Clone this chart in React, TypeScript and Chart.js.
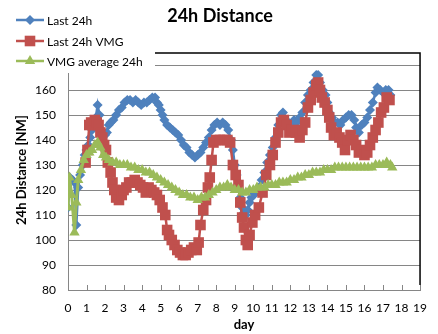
import React, { useEffect, useRef } from 'react';
import { Chart, registerables } from 'chart.js';

Chart.register(...registerables);

const FONT = 'Lato, "Open Sans", sans-serif';

const chartTitle = '24h Distance';
const xAxisTitle = 'day';
const yAxisTitle = '24h Distance [NM]';
const seriesNames = ['Last 24h', 'Last 24h VMG', 'VMG average 24h'];
const seriesColors = ['#4F81BD', '#C0504D', '#9BBB59'];

const xMin = 0;
const xMax = 19;
const yMin = 80;
const yMax = 170;

const blueDays = [
  0, 0.1, 0.25, 0.35, 0.45, 0.55, 0.65, 0.8, 0.9, 1.0,
  1.1, 1.2, 1.3, 1.4, 1.5, 1.6, 1.7, 1.8, 1.9, 2.0,
  2.1, 2.2, 2.3, 2.45, 2.6, 2.75, 2.9, 3.05, 3.2, 3.35,
  3.5, 3.65, 3.8, 3.95, 4.1, 4.25, 4.4, 4.55, 4.7, 4.8,
  4.9, 5.0, 5.1, 5.2, 5.35, 5.5, 5.65, 5.8, 5.95, 6.1,
  6.25, 6.4, 6.55, 6.7, 6.85, 7.0, 7.15, 7.3, 7.45, 7.6,
  7.75, 7.9, 8.05, 8.2, 8.35, 8.5, 8.65, 8.8, 8.9, 9.0,
  9.1, 9.2, 9.3, 9.4, 9.5, 9.6, 9.7, 9.8, 9.9, 10.0,
  10.15, 10.3, 10.45, 10.6, 10.75, 10.9, 11.05, 11.2, 11.35, 11.5,
  11.6, 11.75, 11.9, 12.05, 12.2, 12.35, 12.5, 12.65, 12.8, 12.95,
  13.1, 13.25, 13.4, 13.5, 13.6, 13.75, 13.9, 14.0, 14.1, 14.25,
  14.4, 14.55, 14.7, 14.85, 15.0, 15.15, 15.3, 15.45, 15.55, 15.7,
  15.85, 16.0, 16.15, 16.3, 16.45, 16.6, 16.7, 16.85, 17.0, 17.15,
  17.3, 17.4,
];
const blueValues = [
  113, 125, 124, 123, 106, 121, 126, 130, 134, 136,
  138, 141, 144, 147, 149, 154, 150, 144, 142, 142,
  143, 146, 147, 148, 150, 152, 153, 155, 156, 156,
  155, 156, 155, 154, 155, 155, 156, 157, 157, 155,
  154, 152, 150, 148, 146, 145, 144, 143, 142, 140,
  138, 137, 135, 134, 133, 134, 135, 137, 139, 141,
  144, 146, 147, 146, 147, 146, 144, 140, 136, 130,
  126, 122, 117, 113, 111, 110, 112, 115, 117, 118,
  119, 121, 124, 127, 131, 134, 137, 141, 146, 150,
  151, 148, 147, 146, 148, 147, 149, 151, 155, 158,
  160, 163, 166, 166, 163, 160, 158, 155, 151, 149,
  147, 147, 146, 148, 149, 150, 150, 148, 145, 143,
  146, 147, 149, 152, 155, 159, 161, 160, 159, 160,
  160, 158,
];

const redDays = [
  0.95, 1.05, 1.15, 1.25, 1.35, 1.45, 1.55, 1.65, 1.75, 1.85,
  1.95, 2.05, 2.15, 2.3, 2.4, 2.5, 2.6, 2.75, 2.9, 3.0,
  3.15, 3.3, 3.45, 3.6, 3.75, 3.9, 4.05, 4.2, 4.35, 4.5,
  4.65, 4.8, 4.95, 5.1, 5.25, 5.35, 5.45, 5.6, 5.75, 5.9,
  6.05, 6.2, 6.35, 6.5, 6.65, 6.8, 6.95, 7.05, 7.15, 7.3,
  7.45, 7.55, 7.65, 7.75, 7.85, 8.0, 8.2, 8.4, 8.6, 8.75,
  8.9, 9.05, 9.2, 9.3, 9.4, 9.5, 9.6, 9.7, 9.8, 9.95,
  10.1, 10.3, 10.5, 10.7, 10.9, 11.05, 11.2, 11.35, 11.5, 11.65,
  11.8, 11.95, 12.1, 12.3, 12.5, 12.65, 12.8, 12.95, 13.1, 13.25,
  13.4, 13.5, 13.6, 13.7, 13.85, 14.0, 14.1, 14.2, 14.35, 14.5,
  14.65, 14.8, 14.95, 15.1, 15.25, 15.4, 15.55, 15.7, 15.85, 16.0,
  16.15, 16.3, 16.45, 16.6, 16.75, 16.9, 17.05, 17.2, 17.35,
];
const redValues = [
  131, 136, 146, 147, 146, 148, 147, 146, 143, 141,
  138, 136, 131, 127, 123, 120, 117, 116, 118, 120,
  121, 123, 123, 124, 123, 122, 121, 119, 121, 120,
  119, 118, 116, 113, 110, 104, 102, 100, 98, 96,
  95, 94, 94, 95, 96, 97, 96, 99, 106, 112,
  116, 121, 125, 132, 139, 140, 140, 140, 140, 139,
  130, 126, 122, 115, 109, 105, 100, 98, 102, 107,
  110, 113, 119, 126, 130, 134, 139, 143, 147, 148,
  146, 143, 144, 143, 141, 144, 147, 153, 156, 159,
  162, 163, 160, 157, 155, 152, 149, 145, 142, 143,
  141, 139, 136, 140, 142, 140, 138, 135, 136, 134,
  135, 138, 141, 144, 147, 151, 153, 157, 156,
];

const greenDays = [
  0, 0.08, 0.2, 0.35, 0.45, 0.55, 0.7, 0.85, 1.0, 1.15,
  1.3, 1.45, 1.6, 1.75, 1.9, 2.05, 2.2, 2.4, 2.6, 2.8,
  3.0, 3.2, 3.4, 3.6, 3.8, 4.0, 4.2, 4.4, 4.6, 4.8,
  5.0, 5.2, 5.4, 5.6, 5.8, 6.0, 6.2, 6.4, 6.6, 6.8,
  7.0, 7.2, 7.4, 7.6, 7.8, 8.0, 8.2, 8.4, 8.6, 8.8,
  9.0, 9.2, 9.4, 9.6, 9.8, 10.0, 10.2, 10.4, 10.6, 10.8,
  11.0, 11.2, 11.4, 11.6, 11.8, 12.0, 12.2, 12.4, 12.6, 12.8,
  13.0, 13.2, 13.4, 13.6, 13.8, 14.0, 14.2, 14.4, 14.6, 14.8,
  15.0, 15.2, 15.4, 15.6, 15.8, 16.0, 16.2, 16.4, 16.6, 16.8,
  17.0, 17.2, 17.4, 17.5,
];
const greenValues = [
  113, 125, 118, 103, 115, 124, 128, 132, 134, 135,
  136, 138, 139, 137, 134, 133, 132, 131, 131, 130,
  130, 130, 129, 129, 128, 128, 127, 127, 126, 125,
  124, 123, 122, 121, 120, 119, 118, 118, 117, 117,
  116, 117, 117, 118, 119, 120, 121, 121, 122, 121,
  120, 120, 119, 119, 120, 120, 121, 121, 121, 122,
  122, 122, 123, 123, 123, 124, 124, 125, 125, 126,
  126, 127, 127, 127, 128, 128, 128, 129, 129, 129,
  129, 129, 129, 129, 129, 129, 129, 129, 130, 130,
  130, 131, 130, 129,
];

const toPoints = (xs: number[], ys: number[]) => xs.map((x, i) => ({ x, y: ys[i] }));

function drawMarker(ctx: CanvasRenderingContext2D, kind: number, x: number, y: number, color: string) {
  ctx.fillStyle = color;
  ctx.beginPath();
  if (kind === 0) {
    const r = 5;
    ctx.moveTo(x, y - r);
    ctx.lineTo(x + r, y);
    ctx.lineTo(x, y + r);
    ctx.lineTo(x - r, y);
  } else if (kind === 1) {
    const s = 5.3;
    ctx.rect(x - s, y - s, 2 * s, 2 * s);
  } else {
    const r = 6;
    ctx.moveTo(x, y - r);
    ctx.lineTo(x + r * 0.87, y + r * 0.5);
    ctx.lineTo(x - r * 0.87, y + r * 0.5);
  }
  ctx.closePath();
  ctx.fill();
}

const decorPlugin = {
  id: 'decor',
  afterDraw(chart: any) {
    const { ctx, chartArea: ca } = chart;
    const xs = chart.scales.x;
    ctx.save();
    ctx.strokeStyle = '#868686';
    ctx.lineWidth = 1;
    for (const t of xs.ticks) {
      const px = Math.round(xs.getPixelForValue(t.value)) + 0.5;
      ctx.beginPath();
      ctx.moveTo(px, ca.bottom);
      ctx.lineTo(px, ca.bottom - 5);
      ctx.stroke();
    }
    ctx.strokeStyle = '#000';
    ctx.lineWidth = 1.5;
    ctx.beginPath();
    ctx.moveTo(150, ca.top - 12);
    ctx.lineTo(ca.right, ca.top - 12);
    ctx.lineTo(ca.right, ca.bottom - 5);
    ctx.stroke();
    ctx.fillStyle = '#ffffff';
    ctx.fillRect(0, 0, 155, 73);
    ctx.fillStyle = '#000';
    ctx.font = `bold 18px ${FONT}`;
    ctx.textAlign = 'center';
    ctx.textBaseline = 'middle';
    ctx.fillText(chartTitle, 220, 16);
    ctx.save();
    ctx.translate(22, 170);
    ctx.rotate(-Math.PI / 2);
    ctx.font = `bold 13px ${FONT}`;
    ctx.fillText(yAxisTitle, 0, 0);
    ctx.restore();
    const rows = [20, 41, 61];
    ctx.font = `12px ${FONT}`;
    ctx.textAlign = 'left';
    seriesNames.forEach((name, i) => {
      const y = rows[i];
      ctx.strokeStyle = seriesColors[i];
      ctx.lineWidth = 2.5;
      ctx.beginPath();
      ctx.moveTo(16, y);
      ctx.lineTo(44, y);
      ctx.stroke();
      drawMarker(ctx, i, 30, y, seriesColors[i]);
      ctx.fillStyle = '#000';
      ctx.fillText(name, 47, y + 1);
    });
    ctx.restore();
  },
};

export default function App() {
  const ref = useRef<HTMLCanvasElement | null>(null);

  useEffect(() => {
    if (!ref.current) return;
    const chart = new Chart(ref.current, {
      type: 'line',
      data: {
        datasets: [
          {
            label: seriesNames[0],
            data: toPoints(blueDays, blueValues),
            borderColor: seriesColors[0],
            backgroundColor: seriesColors[0],
            pointStyle: 'rectRot',
            pointRadius: 5,
            pointBorderWidth: 0,
            borderWidth: 2.5,
            tension: 0,
            order: 3,
          },
          {
            label: seriesNames[1],
            data: toPoints(redDays, redValues),
            borderColor: seriesColors[1],
            backgroundColor: seriesColors[1],
            pointStyle: 'rect',
            pointRadius: 7.5,
            pointBorderWidth: 0,
            borderWidth: 2.5,
            tension: 0,
            order: 2,
          },
          {
            label: seriesNames[2],
            data: toPoints(greenDays, greenValues),
            borderColor: seriesColors[2],
            backgroundColor: seriesColors[2],
            pointStyle: 'triangle',
            pointRadius: 6,
            pointBorderWidth: 0,
            borderWidth: 3,
            tension: 0,
            order: 1,
          },
        ],
      },
      options: {
        responsive: false,
        animation: false,
        parsing: false,
        layout: { padding: { top: 65, right: 15, left: 0, bottom: 0 } },
        plugins: {
          legend: { display: false },
          title: { display: false },
          tooltip: { enabled: false },
        },
        scales: {
          x: {
            type: 'linear',
            min: xMin,
            max: xMax,
            ticks: {
              stepSize: 1,
              color: '#000',
              padding: 11,
              maxRotation: 0,
              font: { family: FONT, size: 12 },
            },
            grid: { drawOnChartArea: false, drawTicks: false },
            border: { display: true, color: '#868686', width: 1 },
            title: {
              display: true,
              text: xAxisTitle,
              color: '#000',
              font: { family: FONT, size: 13, weight: 'bold' },
              padding: { top: 0, bottom: 1 },
            },
            afterFit: (s: any) => {
              s.height = 44;
            },
          },
          y: {
            type: 'linear',
            min: yMin,
            max: yMax,
            ticks: {
              stepSize: 10,
              color: '#000',
              padding: 12,
              font: { family: FONT, size: 12 },
            },
            grid: { color: '#868686', lineWidth: 1, drawTicks: false },
            border: { display: true, color: '#868686', width: 1 },
            afterFit: (s: any) => {
              s.width = 68;
            },
          },
        },
      },
      plugins: [decorPlugin],
    } as any);
    return () => chart.destroy();
  }, []);

  return (
    <div style={{ position: 'absolute', left: 0, top: 0, width: 438, height: 334, background: '#fff' }}>
      <canvas ref={ref} width={438} height={334} style={{ width: 438, height: 334, display: 'block' }} />
    </div>
  );
}
